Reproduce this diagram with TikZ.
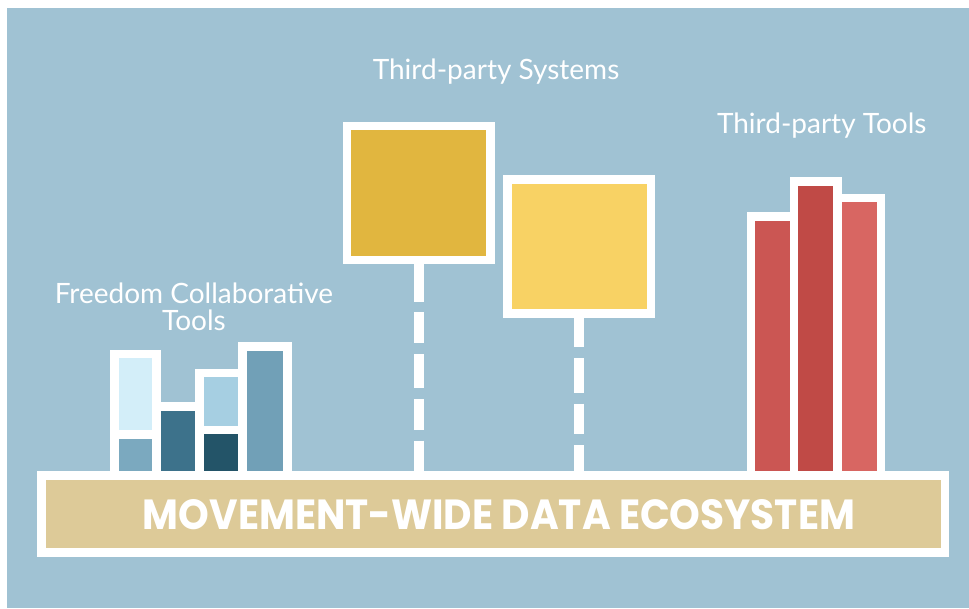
\documentclass[tikz,border=0pt]{standalone}
\usepackage{fontspec}
\setmainfont{Lato}
\newfontfamily\titlefont{Poppins}
\definecolor{sky}{HTML}{A0C2D3}
\definecolor{sand}{HTML}{DDCA98}
\definecolor{ice}{HTML}{D3EEF9}
\definecolor{steel}{HTML}{7BA9BF}
\definecolor{teal}{HTML}{3D728B}
\definecolor{pale}{HTML}{A6CFE2}
\definecolor{navy}{HTML}{235468}
\definecolor{slate}{HTML}{71A0B7}
\definecolor{mustard}{HTML}{E1B63F}
\definecolor{butter}{HTML}{F8D264}
\definecolor{brick}{HTML}{CB5653}
\definecolor{crimson}{HTML}{C04A46}
\definecolor{coral}{HTML}{D86662}
\begin{document}
\begin{tikzpicture}[x=1pt, y=-1pt]
    % Node styles
    \tikzstyle{none}=[inner sep=0mm, outer sep=0mm, text=white]
    \tikzstyle{label}=[none, font=\fontsize{28}{26.7}\selectfont, align=center]
    \tikzstyle{bar}=[draw=white, line width=8.6pt, shape=rectangle, inner sep=0mm, outer sep=0mm]
    \tikzstyle{base box}=[bar, fill=sand, minimum width=903.5pt, minimum height=77pt]
    \tikzstyle{system box}=[bar, minimum width=143.7pt, minimum height=134pt]
    % Edge styles
    \tikzstyle{stem}=[draw=white, line width=10pt]

    \useasboundingbox (0, 0) rectangle (969, 608);
    \fill [white] (0, 0) rectangle (969, 608);
    \fill [sky] (7, 8) rectangle (969, 608);

    % freedom tools
    \node [style=bar, fill=ice, minimum width=42pt, minimum height=80.5pt] (1) at (135.5, 394.25) {};
    \node [style=bar, fill=steel, minimum width=42pt, minimum height=41pt] (2) at (135.5, 455) {};
    \node [style=bar, fill=teal, minimum width=43pt, minimum height=69pt] (3) at (178, 441) {};
    \node [style=bar, fill=pale, minimum width=43pt, minimum height=57pt] (4) at (221, 401.5) {};
    \node [style=bar, fill=navy, minimum width=43pt, minimum height=45.5pt] (5) at (221, 452.75) {};
    \node [style=bar, fill=slate, minimum width=45pt, minimum height=129pt] (6) at (265, 411) {};

    % third-party systems
    \node [style=system box, fill=mustard] (7) at (418.85, 193) {};
    \node [style=system box, fill=butter] (8) at (579.15, 246.5) {};

    % third-party tools
    \node [style=bar, fill=brick, minimum width=43pt, minimum height=258.8pt] (9) at (772.5, 346.1) {};
    \node [style=bar, fill=crimson, minimum width=43.5pt, minimum height=293.8pt] (10) at (815.75, 328.6) {};
    \node [style=bar, fill=coral, minimum width=43.5pt, minimum height=277.5pt] (11) at (859.25, 336.75) {};

    \node [style=base box] (0) at (493.25, 514) {};
    \node [style=none] (15) at (499, 515) {\resizebox{712pt}{30pt}{\titlefont\bfseries MOVEMENT-WIDE DATA ECOSYSTEM}};

    \node [style=label, anchor=base] (12) at (496, 79.3) {Third-party Systems};
    \node [style=label, anchor=base] (13) at (821.7, 133.3) {Third-party Tools};
    \node [style=label, anchor=base] (14) at (194, 330) {Freedom Collaborative\\Tools};

    \draw [style=stem, dash pattern=on 41.7pt off 10.6pt on 31pt off 10.7pt on 34.3pt off 11pt on 30.7pt off 10.7pt on 40pt] (7.south) to (7.south |- 0.north);
    \draw [style=stem, dash pattern=on 33.8pt off 11pt on 34.4pt off 11pt on 30.3pt off 11pt on 40pt] (8.south) to (8.south |- 0.north);
\end{tikzpicture}
\end{document}
